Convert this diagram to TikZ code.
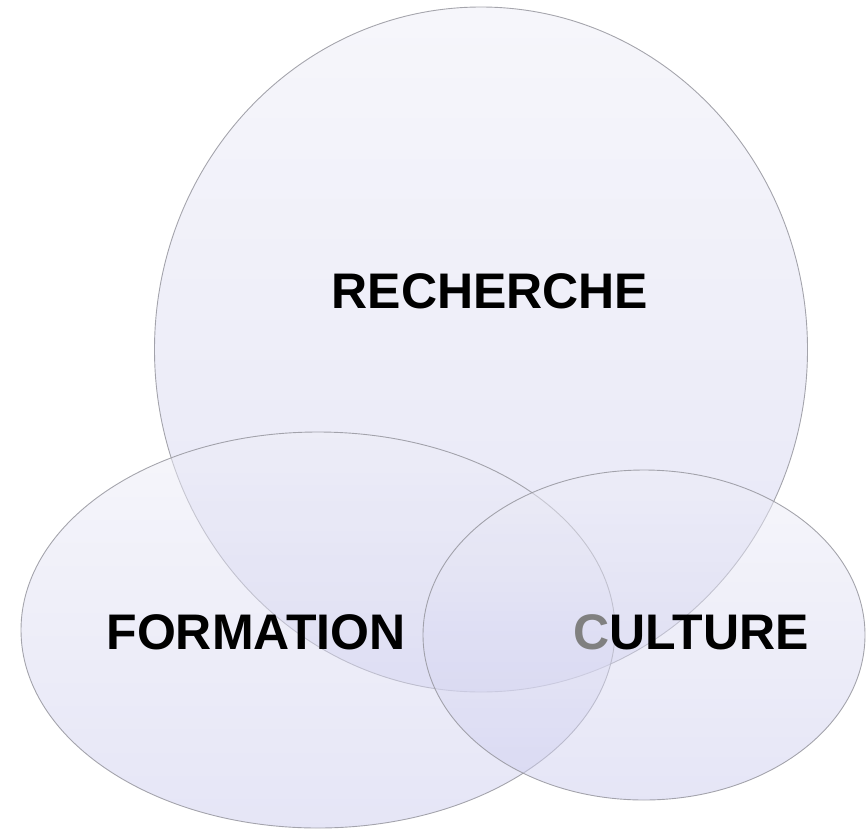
\documentclass[tikz,border=0pt]{standalone}
\usepackage{fontspec}
\setmainfont{Liberation Sans}
\definecolor{lilatop}{RGB}{238,238,247}
\definecolor{lilabot}{RGB}{204,204,238}
\definecolor{rimgray}{RGB}{150,150,158}
\tikzset{
  bubble/.style={draw=rimgray, line width=0.9pt, top color=lilatop, bottom color=lilabot, fill opacity=0.5, draw opacity=0.85},
  label/.style={anchor=center, font=\fontsize{50}{50}\selectfont\bfseries, text=black}
}

\begin{document}
\begin{tikzpicture}[x=1pt, y=-1pt]
      \useasboundingbox (0,0) rectangle (867,830);
      % the three bubbles
      \draw[bubble] (481,349.5) ellipse [x radius=326.5, y radius=342.5];
      \draw[bubble] (318,630) ellipse [x radius=297, y radius=198];
      \draw[bubble] (644,635) ellipse [x radius=221, y radius=165];
      % names
      \node[label] (recherche) at (490,291) {RECHERCHE};
      \node[label] (formation) at (256,632) {FORMATION};
      \node[label] (culture) at (691,632) {\textcolor{gray}{C}ULTURE};
    \end{tikzpicture}
\end{document}
